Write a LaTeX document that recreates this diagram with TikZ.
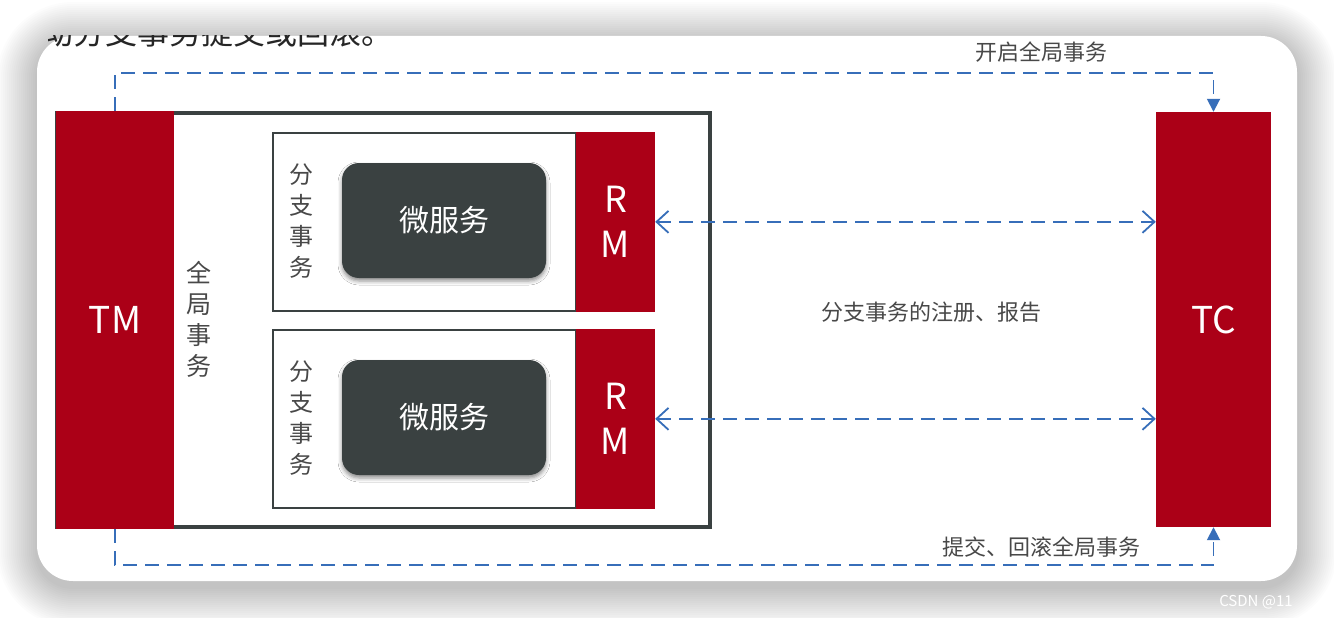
\documentclass[tikz,border=0pt]{standalone}
\usepackage{fontspec}
\setmainfont{Noto Sans CJK SC}
\usetikzlibrary{arrows.meta,shadows.blur}
\definecolor{T}{RGB}{171,0,23}
\definecolor{G}{RGB}{58,65,65}
\definecolor{B}{RGB}{55,110,185}
\definecolor{W}{RGB}{72,72,72}
\newcommand{\fs}[1]{\fontsize{#1}{#1}\selectfont}
\tikzset{
  redbox/.style={fill=T, text=white, inner sep=0, font=\fs{37}},
  flow/.style={draw=B, line width=1.8pt, dash pattern=on 14pt off 8pt},
  lbl/.style={text=W, font=\fs{22}, inner sep=0},
  vtext/.style={text=W, inner sep=0, align=center, font=\fontsize{24}{31}\selectfont},
  svc/.style={fill=G, rounded corners=17pt, text=white, font=\fs{30}, inner sep=0,
    minimum width=204pt, minimum height=115pt,
    blur shadow={shadow xshift=0pt, shadow yshift=-3pt, shadow blur radius=4pt, shadow opacity=45}}
}
\begin{document}
\begin{tikzpicture}[x=1pt,y=-1pt]
\useasboundingbox (0,0) rectangle (1334,618);
\fill[white] (0,0) rectangle (1334,618);
% soft shadow round the card
\foreach \k [evaluate=\k as \r using 36+\k] in {2,4,...,40}
  \fill[black, opacity=0.01, rounded corners=\r pt] (37-\k,36-\k+6) rectangle (1297+\k,581+\k+6);
\node[fill=white, rounded corners=36pt, minimum width=1260pt, minimum height=545pt, inner sep=0] (card) at (667,308.5) {};
% cut-off line of text above the card
\begin{scope}
\clip (48,36) rectangle (420,60);
\node[anchor=base west, text=black!85, font=\fs{32}, inner sep=0] (cut) at (41,45) {动分支事务提交或回滚。};
\end{scope}
\node[draw=G, line width=4pt, minimum width=653pt, minimum height=414pt, inner sep=0] (global) at (383.5,320) {};
\node[redbox, minimum width=118pt, minimum height=418pt] (TM) at (115,320) {TM};
\node[redbox, minimum width=115pt, minimum height=415pt] (TC) at (1213.5,319.5) {TC};
\node[vtext, font=\fontsize{25}{31}\selectfont] (gtx) at (198.5,319) {全\\局\\事\\务};
\foreach \i/\y in {1/0,2/197}{
  \node[draw=G, line width=2pt, minimum width=303pt, minimum height=178pt, inner sep=0] (br\i) at (424.5,221.7+\y) {};
  \node[redbox, minimum width=79pt, minimum height=179.7pt, align=center, font=\fontsize{36}{45}\selectfont] (RM\i) at (615.5,221.85+\y) {R\\M};
  \node[svc] (ms\i) at (444,220.5+\y) {微服务};
  \node[vtext] (btx\i) at (301,221+\y) {分\\支\\事\\务};
  \draw[flow, {Straight Barb[length=12pt,width=22pt]}-{Straight Barb[length=12pt,width=22pt]}] (RM\i.east) -- (RM\i.east -| TC.west);
}
\draw[flow, -{Triangle[length=13pt,width=13pt]}] (TM.north) -- ++(0,-38) -| (TC.north);
\draw[flow, -{Triangle[length=13pt,width=13pt]}] (TM.south) -- ++(0,36) -| (TC.south);
\node[lbl] (open) at (1041.5,52.5) {开启全局事务};
\node[lbl] (commit) at (1041,547.5) {提交、回滚全局事务};
\node[lbl] (reg) at (931,312) {分支事务的注册、报告};
\node[text=white, font=\fs{15}, inner sep=0] (wm) at (1256,602) {CSDN @11};
\end{tikzpicture}
\end{document}
